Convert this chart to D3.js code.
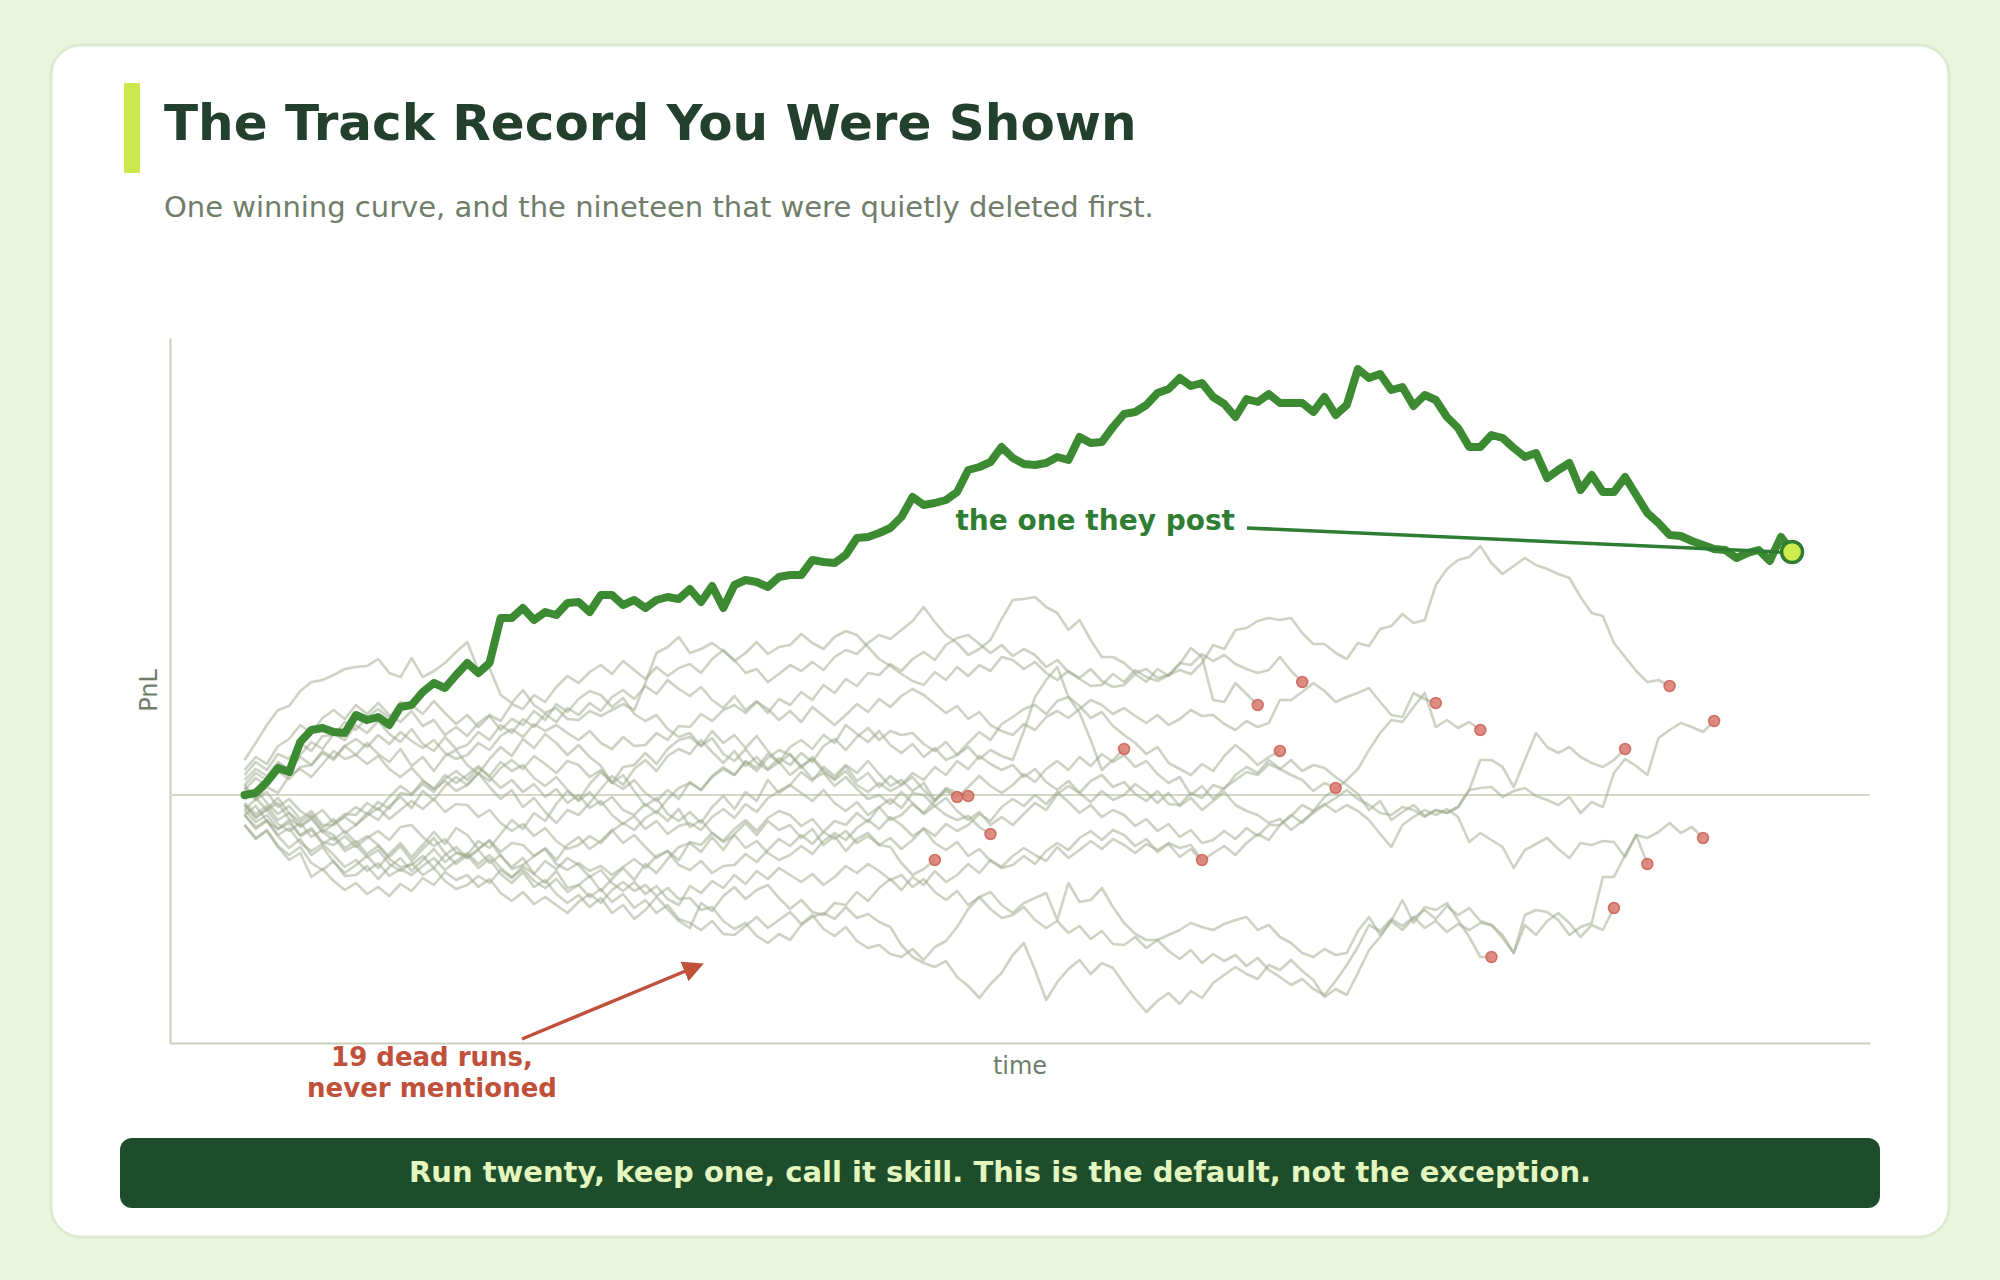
<!DOCTYPE html>
<html><head><meta charset="utf-8">
<script src="https://cdn.jsdelivr.net/npm/d3@7"></script>
<style>html,body{margin:0;padding:0;background:#eaf5dd;}svg{display:block;}</style>
</head><body>
<svg id="chart"></svg>
<script>
// ---------- text ----------
const titleText = "The Track Record You Were Shown";
const subtitleText = "One winning curve, and the nineteen that were quietly deleted first.";
const xLabel = "time";
const yLabel = "PnL";
const winnerLabel = "the one they post";
const deadLabelLines = ["19 dead runs,", "never mentioned"];
const footerText = "Run twenty, keep one, call it skill. This is the default, not the exception.";

// ---------- data (PnL per step) ----------
const winner = [0,0.2,1.3,2.7,2.3,5.3,6.5,6.7,6.3,6.2,8.0,7.5,7.8,7.0,8.8,9.0,10.3,11.2,10.7,12.0,13.2,12.2,13.2,17.7,17.7,18.7,17.5,18.3,18.0,19.2,19.3,18.3,20.0,20.0,19.0,19.5,18.7,
19.5,19.8,19.6,20.6,19.3,20.9,18.7,21.0,21.5,21.3,20.8,21.8,22.0,22.0,23.5,23.3,23.2,24.0,25.7,25.8,26.2,26.7,27.8,29.8,29.0,29.2,29.5,30.3,32.5,32.8,33.3,34.8,33.7,33.1,33.0,
33.2,33.8,33.5,35.8,35.2,35.3,36.8,38.1,38.3,39.0,40.2,40.6,41.7,40.9,41.2,39.8,39.1,37.8,39.6,39.3,40.1,39.2,39.2,39.2,38.3,39.8,38.0,39.0,42.6,41.7,42.1,40.5,40.8,38.9,40.0,39.5,
37.8,36.7,34.8,34.8,36.0,35.7,34.7,33.8,34.2,31.7,32.5,33.2,30.5,32.0,30.3,30.3,31.8,30.0,28.2,27.2,26.0,25.9,25.4,25.0,24.6,24.5,23.7,24.2,24.5,23.4,25.8,24.3];

const deadRun01 = [-1.5,-0.4,0.8,0.2,1.9,2.6,1.8,3.1,4.4,3.6,4.0,5.2,4.1,3.3,4.6,2.9,3.8,2.4,3.9,4.5,3.0,2.1,3.6,4.8,3.9,5.6,4.7,6.1,5.2,4.0,5.0,3.8,2.9,1.2,2.0,0.4,-1.1,-0.3,-1.9,-2.6,-1.7,-2.8,-1.2,-0.1,-1.4,0.3,-0.6,1.5,0.2,1.0,2.3,1.4,2.8,1.9,3.0,2.2,3.4,2.1,0.9,1.5,0.4,1.2,-0.5,0.6,-0.2];
const deadRun02 = [1.0,-0.3,-1.5,-0.8,-2.4,-3.1,-2.2,-3.7,-4.5,-3.6,-4.8,-4.1,-5.0,-6.2,-5.1,-6.6,-5.4,-4.3,-5.8,-6.9,-6.0,-4.6,-5.3,-3.9,-2.5,-3.4,-1.8,-2.6,-0.9,0.4,-0.5,1.1,2.3,1.2,2.8,3.0,4.2,3.1,4.6,5.5,5.8,4.9,6.4,5.2,6.0,4.7,5.9,4.4,3.2,4.1,2.7,3.8,2.5,1.6,2.9,1.4,2.2,0.8,1.9,1.0,1.8,0.5,-0.6,0.7,0.2,-0.1];
const deadRun03 = [-2.0,-3.4,-2.6,-4.1,-5.3,-4.4,-6.0,-5.2,-6.7,-7.8,-7.0,-6.1,-7.3,-5.9,-4.8,-6.2,-5.0,-3.7,-4.9,-3.3,-4.0,-5.4,-4.6,-6.1,-7.2,-6.3,-7.9,-8.8,-7.6,-9.3,-9.0,-8.1,-9.6,-8.4,-7.3,-8.5,-6.9,-7.8,-6.4,-5.2,-4.8,-5.7,-4.2,-5.5,-3.9,-2.8,-4.0,-2.6,-3.5,-3.0,-4.3,-3.4,-5.0,-4.1,-5.6,-4.4,-3.8,-5.0,-5.2,-6.8,-8.0,-7.4,-6.5];
const deadRun04 = [2.0,3.3,2.5,4.1,3.6,5.2,4.4,5.9,6.0,7.3,6.5,7.8,8.6,7.7,9.3,9.0,8.1,9.4,8.2,7.1,8.0,6.8,7.9,6.5,7.6,7.0,8.4,7.5,9.1,8.3,9.6,10.4,10.0,8.8,9.7,8.1,7.4,8.0,6.6,5.8,6.2,4.9,5.7,4.1,3.4,4.6,3.2,2.5,3.3,2.0,2.9,1.6,2.2,0.9,1.8,0.6,-0.4,0.0,-0.9,0.3,-0.8,-1.9,-1.1,-2.0,-2.5,-2.1,-3.2,-3.9];
const deadRun05 = [-1.0,-2.2,-1.4,-0.3,-1.8,-2.7,-1.9,-3.3,-2.4,-3.8,-3.0,-1.8,-2.5,-1.1,-0.2,-1.3,0.4,-0.5,0.9,1.8,1.0,2.2,0.8,-0.4,0.5,-1.2,-0.3,-1.7,-2.8,-1.5,-2.0,-0.8,0.6,1.9,1.0,2.6,3.5,2.4,3.9,4.6,4.1,5.5,4.3,3.2,4.4,2.9,3.8,2.6,3.7,3.0,4.2,3.3,4.9,5.6,4.5,5.8,6.7,5.5,6.4,6.0,6.2,5.1,4.4,5.3,4.0,4.8,3.6,4.5,3.9,3.5,6.4,9.8,11.5,12.8,9.8,8.2,5.5,2.5,3.5,4.6];
const deadRun06 = [-3.0,-4.3,-3.5,-5.1,-6.0,-5.2,-6.8,-7.5,-6.6,-8.1,-8.0,-7.1,-8.4,-7.2,-6.3,-7.6,-6.5,-5.4,-6.7,-5.8,-6.0,-7.3,-6.4,-7.9,-8.8,-7.7,-9.2,-8.5,-9.9,-10.8,-10.0,-11.2,-10.3,-11.8,-11.0,-12.4,-11.5,-10.2,-11.4,-12.6,-13.3,-10.8,-11.6,-10.1,-9.2,-10.4,-9.5,-9.0,-10.3,-11.4,-10.5,-11.7,-12.0,-10.8,-11.0,-9.7,-10.6,-9.3,-8.4,-9.5,-8.2,-9.0,-7.6,-8.7,-8.0,-6.9,-7.8,-6.5,-7.2,-6.1,-5.3,-6.0,-6.6,-5.2,-6.3,-5.5,-4.6,-5.4,-4.4,-5.0,-5.8,-4.9,-5.5,-4.8,-5.3,-5.0,-6.5];
const deadRun07 = [2.5,3.8,3.1,4.9,5.6,7.0,6.2,7.7,8.5,7.6,9.0,8.1,9.2,8.0,7.3,8.4,6.9,7.5,6.0,6.8,5.9,7.2,8.0,7.4,9.1,8.6,10.0,9.3,10.8,11.9,11.2,12.3,13.0,12.1,13.4,12.5,11.6,12.8,11.9,12.7,13.1,12.2,13.6,14.5,13.4,14.2,15.3,14.1,14.8,15.0,16.1,15.2,14.6,15.8,16.4,16.0,14.8,13.6,12.9,12.1,11.4,11.0,12.3,11.5,12.8,11.9,13.0,12.4,13.8,13.5,12.6,13.3,12.2,11.5,12.4,11.6,10.9,11.0,12.1,11.3,12.5,11.8,11.4,12.0,13.1,14.7,13.8,9.5,9.3,11.2,10.1,9.0];
const deadRun08 = [1.0,2.2,1.5,3.1,2.6,4.0,5.3,4.6,6.1,5.5,7.0,6.2,7.4,6.1,5.3,6.6,5.1,4.4,5.8,4.6,5.0,6.3,5.5,7.0,6.2,7.6,6.8,8.1,7.3,8.7,8.0,9.2,8.4,9.8,10.5,9.6,10.9,10.1,11.5,10.6,9.9,10.8,9.5,8.7,9.9,8.5,9.4,8.2,9.6,9.0,10.3,9.5,11.0,10.2,11.6,10.9,12.2,12.0,13.1,12.4,13.6,14.3,13.5,15.0,15.7,16.0,15.1,14.2,15.0,13.9,14.6,14.0,12.8,13.5,12.3,11.7,12.6,11.4,10.8,11.0,12.1,11.3,12.6,11.9,13.2,13.0,14.1,13.4,14.0,13.1,12.6,12.2,12.5,13.8,12.4,11.3];
const deadRun09 = [-0.5,0.6,-0.8,-1.9,-1.1,-2.4,-1.6,-3.0,-3.0,-2.1,-1.2,-1.9,-0.7,-1.4,0.2,0.0,1.1,0.3,1.6,2.4,1.5,2.7,1.9,3.3,2.4,3.0,1.7,0.9,1.8,0.5,-0.6,0.3,-1.0,-0.2,-1.5,-2.0,-0.9,-1.8,-0.4,0.7,1.2,0.5,1.8,2.6,2.0,3.4,2.7,4.1,3.3,4.8,5.5,4.6,6.0,5.2,7.0,6.1,5.3,6.4,5.0,4.2,5.1,3.8,4.7,3.5,4.0,5.2,6.3,5.5,7.1,7.8,8.6,9.0,8.1,9.4,9.8,8.9,7.7,8.3,6.9,6.0,5.2,4.1,4.8,3.2,2.6,2.0,3.1,2.4,3.9,5.0,4.1,3.0,3.8,4.4];
const deadRun10 = [-2.0,-1.1,-2.6,-3.4,-2.5,-4.0,-3.3,-4.7,-5.0,-4.1,-5.2,-4.3,-3.6,-4.5,-3.2,-3.0,-4.2,-5.1,-4.4,-5.7,-6.3,-5.5,-6.8,-6.0,-7.4,-7.0,-6.1,-5.3,-6.5,-5.0,-4.2,-5.4,-4.6,-3.5,-4.8,-4.0,-5.2,-6.3,-5.6,-7.0,-7.5,-6.6,-7.8,-7.1,-7.0,-5.9,-6.7,-5.5,-4.4,-5.1,-4.0,-4.9,-3.7,-2.6,-3.0,-1.8,-2.7,-1.2,-0.4,-1.3,0.2,0.0,-1.1,-0.3,-1.6,-2.5,-1.7,-3.0,-2.2,-3.0,-1.9,-0.8,-1.5,0.1,0.9,0.2,1.4,2.0,0.8,1.3,0.1,-0.6,0.4,-0.9,-1.0,0.2,-0.3,1.0,0.6,2.0,2.8,2.2,3.5,2.6,2.0,1.5,0.4,1.2,0.7];
const deadRun11 = [0.5,1.7,0.9,2.3,1.6,2.8,3.0,4.2,3.5,4.9,5.6,4.8,6.0,5.1,6.3,5.4,4.7,5.5,4.2,3.6,4.0,5.2,4.5,5.9,6.6,5.8,7.1,6.4,7.0,6.2,5.5,6.4,5.2,4.6,5.8,4.9,5.0,6.2,5.5,6.9,6.8,8.1,7.4,8.5,9.0,8.2,9.3,8.6,7.5,8.4,7.3,8.8,7.9,7.0,8.0,9.1,8.3,9.6,8.8,9.9,10.6,10.0,9.1,8.2,8.9,7.6,8.3,7.0,6.4,6.0,7.1,6.5,7.8,8.4,7.7,8.6,9.5,9.0,8.1,8.7,7.9,7.2,8.0,7.0,7.6,8.5,7.9,8.0,7.1,6.5,7.4,6.8,7.2,9.5,9.5,10.3,11.2,10.4,9.3,9.8,10.2,10.7,9.3,8.0,7.8,10.2,9.6,9.2];
const deadRun12 = [-1.0,-2.3,-1.5,-2.9,-3.6,-2.8,-4.2,-3.5,-4.0,-5.3,-4.6,-5.9,-5.1,-6.4,-7.2,-7.0,-6.1,-7.3,-6.0,-5.2,-6.3,-5.4,-4.5,-5.7,-4.8,-5.0,-6.1,-5.4,-6.9,-7.5,-6.8,-7.6,-7.1,-8.0,-7.2,-6.4,-7.3,-6.1,-5.6,-6.5,-4.7,-5.0,-3.8,-4.6,-3.4,-2.5,-3.6,-2.3,-1.6,-2.0,-3.1,-2.4,-3.7,-4.4,-3.6,-4.8,-4.1,-5.0,-4.3,-5.4,-4.5,-3.3,-4.1,-2.9,-3.6,-3.0,-1.9,-2.6,-1.2,-0.4,-1.1,0.0,-0.9,0.3,-0.7,-1.8,-1.0,-2.2,-1.5,-2.0,-3.1,-2.4,-3.6,-2.9,-4.2,-3.5,-4.8,-4.5,-3.6,-4.4,-3.3,-4.1,-3.0,-3.0,-2.1,-1.0,-1.6,-0.2,0.6,1.5,2.6,4.5,6.2,7.5,7.3,8.8,10.2,6.8,7.5,6.7,7.3,6.5];
const deadRun13 = [-2.0,-3.2,-2.5,-4.0,-3.3,-4.8,-5.6,-4.9,-6.0,-7.2,-6.5,-7.6,-6.8,-8.1,-7.4,-8.0,-7.1,-6.3,-7.5,-6.6,-5.8,-6.9,-6.0,-7.3,-8.2,-7.4,-8.6,-9.3,-8.4,-9.7,-9.0,-10.2,-9.4,-10.7,-9.9,-11.3,-10.5,-11.8,-11.0,-12.4,-12.8,-13.5,-12.6,-13.9,-14.0,-13.1,-12.2,-13.3,-12.5,-11.7,-12.9,-12.0,-13.4,-14.1,-13.2,-14.6,-15.3,-15.0,-15.9,-16.2,-15.4,-16.5,-15.2,-14.6,-13.2,-11.4,-10.2,-9.7,-11.0,-11.8,-10.8,-10.3,-9.8,-12.5,-8.8,-10.7,-10.5,-9.3,-11.2,-12.8,-13.9,-14.5,-14.5,-14.0,-13.5,-12.8,-13.2,-13.5,-12.9,-12.5,-12.2,-13.5,-13.0,-14.2,-14.8,-15.8,-16.2,-15.4,-16.0,-15.8,-13.6,-12.2,-14.0,-12.6,-10.5,-12.8,-11.2,-11.5,-10.8,-12.5,-14.2,-16.2,-16.2];
const deadRun14 = [-3.0,-4.4,-3.6,-5.2,-6.5,-5.8,-8.2,-7.4,-8.6,-9.5,-8.8,-9.9,-9.2,-10.1,-8.9,-9.6,-8.3,-9.0,-7.7,-8.5,-8.0,-9.2,-8.4,-9.8,-10.6,-9.7,-10.9,-10.2,-11.0,-11.8,-10.7,-9.9,-10.8,-9.5,-8.7,-9.6,-9.0,-10.1,-9.3,-10.4,-10.3,-11.5,-11.2,-12.6,-13.4,-12.8,-14.1,-14.8,-13.9,-14.5,-13.0,-12.2,-11.8,-12.4,-11.2,-12.3,-11.9,-12.7,-13.2,-15.0,-16.2,-16.8,-17.2,-16.6,-18.2,-19.1,-20.3,-18.9,-17.8,-16.0,-14.8,-17.5,-20.5,-18.7,-17.4,-16.5,-17.9,-16.8,-17.3,-18.9,-20.4,-21.7,-20.6,-19.8,-20.9,-19.6,-20.3,-18.8,-18.0,-17.2,-17.9,-18.4,-17.0,-17.5,-16.5,-17.6,-18.5,-20.2,-19.4,-20.0,-17.8,-15.5,-14.2,-12.6,-13.5,-12.3,-11.5,-12.4,-11.1,-12.0,-11.3,-12.6,-13.0,-14.0,-15.8,-13.0,-14.0,-12.6,-11.8,-12.8,-14.2,-13.0,-13.5,-11.3];
const deadRun15 = [0.8,-0.5,0.3,-1.2,-0.4,-1.6,-2.3,-1.5,-2.8,-1.9,-2.0,-0.8,-1.5,-0.2,0.9,0.1,1.4,0.6,2.0,1.2,2.0,2.9,1.8,0.7,1.5,0.3,1.1,-0.2,0.6,-0.8,0.0,-1.3,-0.6,-2.0,-2.9,-2.1,-3.4,-2.6,-3.9,-3.1,-2.8,-3.5,-2.2,-1.4,-2.3,-0.9,-1.7,-0.3,0.4,1.0,0.2,-0.6,0.5,-0.8,-1.6,-0.7,-2.0,-1.2,-2.5,-2.0,-0.9,-1.8,-0.6,0.4,-0.3,0.8,1.9,0.9,0.2,1.0,2.1,1.3,2.6,3.4,2.5,3.8,2.9,4.1,3.3,4.0,2.8,3.4,2.1,1.2,1.8,0.0,0.9,-0.4,0.7,1.5,2.3,2.0,3.1,2.6,3.5,2.4,3.0,2.7,1.8,1.0,0.1,-1.5,-0.6,-2.5,-1.7,-1.0,-2.1,-1.5,-1.8,-1.2,0.5,3.5,3.5,2.8,0.8,3.5,6.2,4.8,4.2,4.8,3.8,3.2,2.8,3.5,4.6];
const deadRun16 = [-1.5,-2.7,-2.0,-3.4,-2.8,-4.1,-3.5,-4.9,-4.2,-5.6,-5.0,-6.2,-5.5,-6.9,-7.6,-6.8,-8.0,-7.3,-8.6,-9.4,-9.0,-8.1,-8.8,-7.5,-8.3,-7.1,-7.9,-6.6,-7.4,-6.3,-7.0,-8.2,-7.5,-8.8,-9.6,-8.7,-9.9,-9.1,-10.4,-11.0,-9.1,-9.8,-8.6,-9.3,-8.0,-8.9,-7.6,-8.4,-7.3,-8.0,-8.7,-7.9,-9.0,-8.2,-7.1,-7.8,-6.9,-7.6,-8.5,-8.0,-9.2,-8.4,-9.7,-10.5,-9.6,-11.0,-10.2,-11.4,-12.3,-12.0,-11.2,-12.5,-13.3,-12.6,-13.8,-13.1,-14.4,-13.6,-14.9,-15.0,-14.2,-15.3,-14.5,-15.6,-16.4,-15.5,-16.8,-15.9,-16.6,-16.0,-17.1,-16.3,-17.5,-18.2,-19.0,-18.4,-19.4,-20.0,-18.6,-17.0,-15.2,-13.0,-13.6,-12.4,-13.1,-12.2,-13.3,-12.6,-13.7,-12.9,-13.5,-12.8,-13.0,-14.3,-15.8,-12.0,-11.5,-11.7,-12.5,-14.0,-13.2,-12.8,-8.2,-8.2,-6.0,-4.0,-6.9];
const deadRun17 = [3.5,5.2,7.0,8.5,8.9,10.4,11.3,11.5,12.0,12.6,12.8,12.9,13.6,12.2,11.8,13.7,11.8,12.4,13.2,14.3,15.3,12.5,12.7,10.0,9.2,10.5,9.0,8.2,8.7,7.6,7.5,8.4,7.9,8.5,9.1,8.5,11.2,14.2,14.8,15.8,14.2,14.6,15.2,14.4,13.5,12.2,12.6,11.3,12.1,13.0,12.4,13.3,12.5,13.8,14.5,14.1,15.2,16.0,15.6,16.5,17.4,18.8,17.3,16.0,15.2,14.0,14.6,15.5,17.6,19.5,19.6,19.8,18.8,18.2,16.5,17.5,15.5,13.8,13.8,13.2,12.2,12.6,11.7,12.0,12.5,12.1,13.2,15.0,14.6,16.5,16.7,17.4,17.7,17.5,17.7,16.2,15.1,15.1,14.2,13.6,15.2,14.9,16.6,16.9,18.1,17.2,17.5,21.0,22.6,23.5,23.8,24.9,23.2,22.1,22.9,23.7,23.0,22.6,22.1,21.7,19.8,18.2,17.9,15.2,13.8,12.4,11.3,11.5,10.9];
const deadRun18 = [-0.8,-1.9,-1.1,-2.5,-1.8,-3.2,-2.4,-3.7,-2.9,-2.2,-3.0,-2.1,-1.3,-2.4,-1.5,-0.6,-1.4,-0.4,-1.7,-0.9,-1.0,-2.2,-1.5,-2.8,-3.6,-2.9,-4.1,-3.3,-4.6,-5.4,-5.0,-4.1,-4.8,-3.6,-2.8,-3.5,-2.3,-1.6,-2.6,-1.4,-3.2,-2.5,-3.8,-4.7,-4.0,-5.3,-4.6,-5.8,-6.5,-6.0,-5.1,-5.9,-4.6,-3.8,-4.5,-3.3,-2.5,-3.4,-2.2,-3.0,-4.1,-3.4,-4.8,-5.5,-4.7,-6.1,-5.4,-6.6,-7.3,-7.0,-6.1,-6.9,-5.6,-4.8,-5.5,-4.3,-3.6,-4.5,-3.5,-4.0,-5.1,-4.4,-5.7,-4.9,-6.2,-5.4,-6.6,-5.8,-5.1,-6.0,-4.8,-3.9,-4.5,-3.0,-2.0,-2.8,-1.6,-0.9,-1.7,-1.0,-1.6,-2.5,-3.9,-5.2,-3.0,-2.2,-1.5,-2.0,-1.4,-2.2,-4.7,-3.8,-4.5,-5.2,-7.3,-5.5,-4.9,-4.3,-5.4,-6.3,-4.8,-5.0,-4.6,-4.7,-6.2,-4.0,-4.3,-3.7,-2.8,-3.8,-3.2,-4.3];
const deadRun19 = [1.5,2.6,1.9,3.3,2.5,3.8,3.0,4.4,3.7,4.9,4.0,3.1,3.9,2.6,1.8,2.7,1.5,0.6,1.4,0.4,1.0,2.2,1.4,2.7,3.5,2.6,3.9,3.1,2.2,3.4,3.0,1.8,2.5,1.3,0.6,1.5,0.2,-0.6,0.5,-0.4,1.3,0.5,1.9,2.8,2.0,3.3,2.4,3.7,4.5,4.0,2.9,3.6,2.3,1.5,2.4,1.0,0.3,1.2,0.4,1.0,2.2,1.5,2.8,2.0,3.4,2.6,3.9,3.1,2.5,3.0,1.8,2.6,1.3,0.5,1.4,0.2,-0.7,0.4,-0.5,0.0,1.1,0.3,-0.8,0.2,-1.1,-0.3,-1.5,-0.6,0.3,-1.0,-1.6,-2.0,-2.8,-2.4,-3.5,-2.6,-1.8,-1.0,-0.3,0.5,-0.4,-1.0,-1.8,-2.0,-1.2,-1.5,-2.2,-1.5,-1.8,-1.2,0.5,0.7,0.8,-0.2,0.4,0.7,-0.1,-0.5,-1.0,-0.2,-1.8,-0.7,-1.2,2.2,3.6,2.9,2.0,5.7,6.5,7.2,6.8,6.3,7.4];

const deadRuns = [deadRun01,deadRun02,deadRun03,deadRun04,deadRun05,deadRun06,deadRun07,deadRun08,deadRun09,deadRun10,
  deadRun11,deadRun12,deadRun13,deadRun14,deadRun15,deadRun16,deadRun17,deadRun18,deadRun19];

// ---------- layout ----------
const W = 2000, H = 1280;
const plot = {left:170, right:1870, top:338, bottom:1043};
const FONT = "'DejaVu Sans', 'Noto Sans', sans-serif";

const svg = d3.select("#chart").attr("width", W).attr("height", H);

svg.append("rect").attr("width", W).attr("height", H).attr("fill", "#eaf5dd");
svg.append("rect").attr("x", 51).attr("y", 45).attr("width", 1898).attr("height", 1192)
  .attr("rx", 30).attr("fill", "#ffffff").attr("stroke", "#dcebd0").attr("stroke-width", 3);

// header
svg.append("rect").attr("x", 124).attr("y", 83).attr("width", 16).attr("height", 90).attr("fill", "#cbe94f");
svg.append("text").attr("x", 164).attr("y", 140).text(titleText)
  .attr("font-family", FONT).attr("font-size", 50).attr("font-weight", "bold").attr("fill", "#233f2d");
svg.append("text").attr("x", 164).attr("y", 217).text(subtitleText)
  .attr("font-family", FONT).attr("font-size", 29).attr("fill", "#6f7d69");

// scales
const x = d3.scaleLinear().domain([-6.7, 146]).range([plot.left, plot.right]);
const y = d3.scaleLinear().domain([-24.8, 45.7]).range([plot.bottom, plot.top]);

// axes (spines only)
const axColor = "#c9cfbd";
svg.append("g").attr("transform", `translate(0,${plot.bottom})`)
  .call(d3.axisBottom(x).tickValues([]).tickSizeOuter(0))
  .call(g => g.select(".domain").attr("stroke", axColor).attr("stroke-width", 2));
svg.append("g").attr("transform", `translate(${plot.left},0)`)
  .call(d3.axisLeft(y).tickValues([]).tickSizeOuter(0))
  .call(g => g.select(".domain").attr("stroke", axColor).attr("stroke-width", 2));

svg.append("text").attr("x", (plot.left + plot.right) / 2).attr("y", 1074).attr("text-anchor", "middle")
  .text(xLabel).attr("font-family", FONT).attr("font-size", 24).attr("fill", "#6f7d69");
svg.append("text").attr("transform", `translate(157,${(plot.top + plot.bottom) / 2}) rotate(-90)`)
  .attr("text-anchor", "middle").text(yLabel).attr("font-family", FONT).attr("font-size", 24).attr("fill", "#6f7d69");

// zero line
svg.append("line").attr("x1", x(-6.7)).attr("x2", x(146)).attr("y1", y(0)).attr("y2", y(0))
  .attr("stroke", "#d3d9c7").attr("stroke-width", 2);

const line = d3.line().x((d, i) => x(i)).y(d => y(d));

// dead runs
svg.append("g").selectAll("path").data(deadRuns).join("path")
  .attr("d", line).attr("fill", "none").attr("stroke", "#9ba78a").attr("stroke-opacity", 0.5)
  .attr("stroke-width", 2.6).attr("stroke-linejoin", "round");
svg.append("g").selectAll("circle").data(deadRuns).join("circle")
  .attr("cx", d => x(d.length - 1)).attr("cy", d => y(d[d.length - 1])).attr("r", 5.5)
  .attr("fill", "#d9796d").attr("fill-opacity", 0.85).attr("stroke", "#c65a4d").attr("stroke-width", 1.5).attr("stroke-opacity", 0.8);

// winner
svg.append("path").datum(winner).attr("d", line).attr("fill", "none")
  .attr("stroke", "#3c8a31").attr("stroke-width", 8).attr("stroke-linejoin", "round").attr("stroke-linecap", "round");

const lastI = winner.length - 1;
// annotation for winner
svg.append("text").attr("x", 1235).attr("y", 530).attr("text-anchor", "end").text(winnerLabel)
  .attr("font-family", FONT).attr("font-size", 28).attr("font-weight", "bold").attr("fill", "#2e7d32");
svg.append("line").attr("x1", 1247).attr("y1", 528).attr("x2", x(lastI) - 12).attr("y2", y(winner[lastI]))
  .attr("stroke", "#2e7d32").attr("stroke-width", 3.5);

svg.append("circle").attr("cx", x(lastI)).attr("cy", y(winner[lastI])).attr("r", 10.5)
  .attr("fill", "#cdeb4d").attr("stroke", "#2e7d32").attr("stroke-width", 3.5);

// dead runs annotation
const red = "#c0503a";
svg.append("defs").append("marker").attr("id", "ah").attr("viewBox", "0 0 10 10").attr("refX", 8).attr("refY", 5)
  .attr("markerWidth", 6).attr("markerHeight", 6).attr("orient", "auto-start-reverse")
  .append("path").attr("d", "M0,0L10,5L0,10z").attr("fill", red);
svg.append("line").attr("x1", 522).attr("y1", 1039).attr("x2", 700).attr("y2", 965)
  .attr("stroke", red).attr("stroke-width", 3.5).attr("marker-end", "url(#ah)");
svg.append("text").attr("text-anchor", "middle").attr("font-family", FONT).attr("font-size", 26)
  .attr("font-weight", "bold").attr("fill", red)
  .selectAll("tspan").data(deadLabelLines).join("tspan")
  .attr("x", 432).attr("y", (d, i) => 1066 + i * 31).text(d => d);

// footer
svg.append("rect").attr("x", 120).attr("y", 1138).attr("width", 1760).attr("height", 70).attr("rx", 12).attr("fill", "#1e4d2c");
svg.append("text").attr("x", 1000).attr("y", 1182).attr("text-anchor", "middle").text(footerText)
  .attr("font-family", FONT).attr("font-size", 29).attr("font-weight", "bold").attr("fill", "#e4f6bf");
</script>
</body></html>
